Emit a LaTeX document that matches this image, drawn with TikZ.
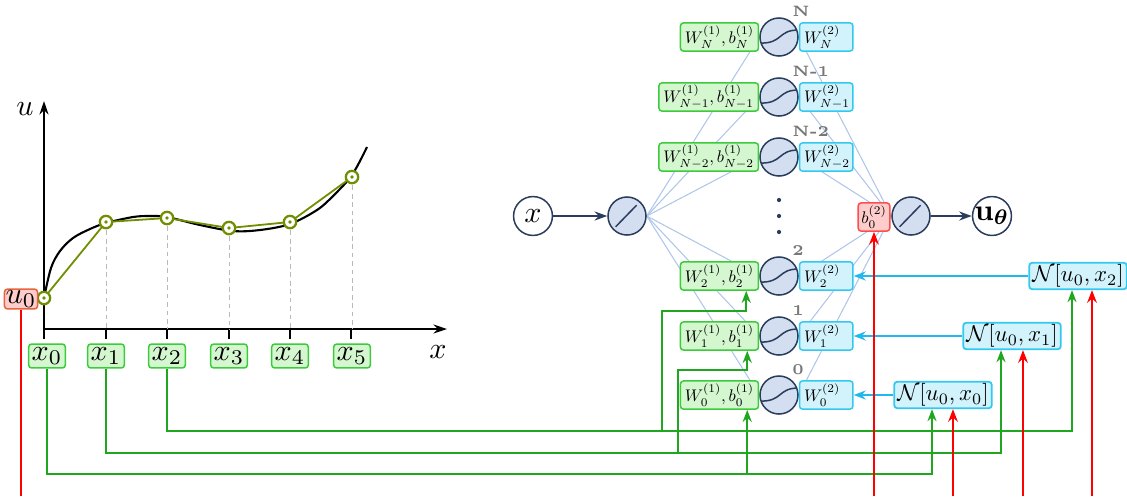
\documentclass[tikz,border=0pt]{standalone}
\usepackage{amsmath, amssymb}
\usepackage{graphicx}
\usetikzlibrary{calc, arrows.meta, positioning, backgrounds}

\definecolor{navy}{HTML}{2B3D5C}
\definecolor{neurfill}{HTML}{D3DEF0}
\definecolor{netcol}{HTML}{AFC6EA}
\definecolor{gfill}{HTML}{D4F7D0}
\definecolor{gdraw}{HTML}{3CCB3C}
\definecolor{gcol}{HTML}{1FA81F}
\definecolor{cfill}{HTML}{D3F3FC}
\definecolor{cdraw}{HTML}{33C8F0}
\definecolor{ccol}{HTML}{22B8EE}
\definecolor{rfill}{HTML}{FFCCCC}
\definecolor{rdraw}{HTML}{FF4D4D}
\definecolor{udraw}{HTML}{E8643C}
\definecolor{olivept}{HTML}{6F8F00}
\definecolor{lblgray}{HTML}{777777}

% small math inside the layer boxes
\newcommand{\wtxt}[1]{\scalebox{0.56}{$#1$}}
\newcommand{\ntxt}[1]{\scalebox{0.76}{$#1$}}

\tikzset{
    neuron/.style={circle, draw=navy, fill=neurfill, line width=0.5pt, minimum size=0.445cm, inner sep=0pt},
    sigm/.style={neuron, path picture={\draw[navy, line width=0.5pt]
        ($(path picture bounding box.center)+(-6.4pt,-2.0pt)$) .. controls
        ($(path picture bounding box.center)+(1.2pt,-2.3pt)$) and
        ($(path picture bounding box.center)+(-0.4pt,2.4pt)$) ..
        ($(path picture bounding box.center)+(6.4pt,2.3pt)$);}},
    lin/.style={neuron, path picture={\draw[navy, line width=0.5pt]
        ($(path picture bounding box.center)+(-3.8pt,-3.6pt)$) --
        ($(path picture bounding box.center)+(3.2pt,3.6pt)$);}},
    io/.style={circle, draw=navy, fill=white, line width=0.5pt, minimum size=0.455cm, inner sep=0pt},
    wbox/.style={draw=gdraw, fill=gfill, rounded corners=1pt, line width=0.5pt,
        minimum height=0.33cm, inner xsep=1.5pt, inner ysep=0.5pt},
    vbox/.style={draw=cdraw, fill=cfill, rounded corners=1pt, line width=0.5pt,
        minimum height=0.33cm, inner xsep=1.5pt, inner ysep=0.5pt, text width=0.52cm, align=left},
    nbox/.style={draw=cdraw, fill=cfill, rounded corners=1pt, line width=0.6pt,
        inner xsep=1pt, inner ysep=0.6pt},
    xbox/.style={draw=gdraw, fill=gfill, rounded corners=1pt, line width=0.5pt, inner sep=1pt, minimum height=0.28cm},
    rbox/.style={draw=rdraw, fill=rfill, rounded corners=1pt, line width=0.5pt, inner sep=1pt},
    lbl/.style={text=lblgray, font=\tiny\bfseries, inner sep=1pt},
    ptmark/.style={circle, draw=olivept, fill=white, line width=0.75pt, minimum size=0.145cm, inner sep=0pt,
        path picture={\fill[olivept] (path picture bounding box.center) circle (0.65pt);}},
    net/.style={netcol, line width=0.35pt},
    gline/.style={gcol, line width=0.7pt, -{Stealth[length=4pt, width=3pt]}},
    rline/.style={red, line width=0.8pt, -{Stealth[length=4.2pt, width=3.2pt]}},
    cline/.style={ccol, line width=0.75pt, -{Stealth[length=4pt, width=3pt]}},
    nline/.style={navy, line width=0.75pt, -{Stealth[length=4.2pt, width=3pt]}},
    axis/.style={black, line width=0.7pt, -{Stealth[length=4.5pt, width=3pt]}}
}

\begin{document}
\begin{tikzpicture}[x=0.0117cm, y=-0.0117cm]
    \useasboundingbox (0,0) rectangle (1127,496);

    % --- BUS LEVELS ---
    \def\yA{431}
    \def\yB{453}
    \def\yC{474}
    \def\yBot{496}

    % --- PLOT (LEFT) ---
    \coordinate (O) at (44,329);
    \coordinate (P0) at (44,298);
    \coordinate (P1) at (106,222);
    \coordinate (P2) at (167,218);
    \coordinate (P3) at (229,228);
    \coordinate (P4) at (290,222);
    \coordinate (P5) at (352,177);

    \draw[axis] (O) -- (447,329);
    \draw[axis] (O) -- (44,101);
    \node (xlab) at (438,352) {$x$};
    \node (ulab) at (25,109) {$u$};
    \foreach \t in {44,106,167,229,290,351}
        \draw[line width=0.7pt] (\t,329) -- (\t,339);

    % dashed guides
    \foreach \p in {P1,P2,P3,P4,P5}
        \draw[gray!55, dash pattern=on 1.6pt off 1.2pt, line width=0.3pt] (\p) -- (\p |- O);

    % exact solution
    \draw[black, line width=0.7pt] plot[smooth, tension=0.55] coordinates {
        (44,298) (51,268) (60,251) (73,238) (90,229) (106,223) (133,217) (150,216)
        (167,217) (200,225) (233,231) (260,230) (290,224) (317,210) (333,196) (352,175) (367,147)};

    % discrete approximation
    \draw[olivept, line width=0.6pt] (P0) -- (P1) -- (P2) -- (P3) -- (P4) -- (P5);
    \foreach \p in {P0,P1,P2,P3,P4,P5}
        \node[ptmark] (m\p) at (\p) {};

    \node[rbox, draw=udraw, inner sep=0.4pt] (u0) at (21,299) {$u_0$};
    \node[xbox] (x0) at (47,356) {$x_0$};
    \node[xbox] (x1) at (106,356) {$x_1$};
    \node[xbox] (x2) at (167,356) {$x_2$};
    \node[xbox] (x3) at (229,356) {$x_3$};
    \node[xbox] (x4) at (290,356) {$x_4$};
    \node[xbox] (x5) at (352,356) {$x_5$};

    % --- NETWORK (RIGHT) ---
    \node[io] (x) at (533,216) {$x$};
    \node[lin] (in) at (627,216) {};
    \node[lin] (out) at (911,216) {};
    \node[io] (ut) at (992,216) {$\mathbf{u}_{\boldsymbol{\theta}}$};
    \node[rbox, minimum width=0.37cm, minimum height=0.33cm, inner sep=0.5pt] (b0) at (874,217) {\wtxt{b_0^{(2)}}};

    % hidden layer
    \node[sigm, label={[lbl]60:N}] (hN) at (779,37) {};
    \node[wbox, left=0pt of hN] (wN) {\wtxt{W_N^{(1)}, b_N^{(1)}}};
    \node[vbox, right=0pt of hN] (vN) {\wtxt{W_N^{(2)}}};

    \node[sigm, label={[lbl]60:N-1}] (hNa) at (779,97) {};
    \node[wbox, left=0pt of hNa] (wNa) {\wtxt{W_{N-1}^{(1)}, b_{N-1}^{(1)}}};
    \node[vbox, right=0pt of hNa] (vNa) {\wtxt{W_{N-1}^{(2)}}};

    \node[sigm, label={[lbl]60:N-2}] (hNb) at (779,157) {};
    \node[wbox, left=0pt of hNb] (wNb) {\wtxt{W_{N-2}^{(1)}, b_{N-2}^{(1)}}};
    \node[vbox, right=0pt of hNb] (vNb) {\wtxt{W_{N-2}^{(2)}}};

    \node[sigm, label={[lbl]60:2}] (h2) at (779,276) {};
    \node[wbox, left=0pt of h2] (w2) {\wtxt{W_2^{(1)}, b_2^{(1)}}};
    \node[vbox, right=0pt of h2] (v2) {\wtxt{W_2^{(2)}}};

    \node[sigm, label={[lbl]60:1}] (h1) at (779,336) {};
    \node[wbox, left=0pt of h1] (w1) {\wtxt{W_1^{(1)}, b_1^{(1)}}};
    \node[vbox, right=0pt of h1] (v1) {\wtxt{W_1^{(2)}}};

    \node[sigm, label={[lbl]60:0}] (h0) at (779,395) {};
    \node[wbox, left=0pt of h0] (w0) {\wtxt{W_0^{(1)}, b_0^{(1)}}};
    \node[vbox, right=0pt of h0] (v0) {\wtxt{W_0^{(2)}}};

    % dots
    \fill[navy] (779,200) circle (0.7pt) (779,216) circle (0.7pt) (779,232) circle (0.7pt);

    % connections (behind)
    \begin{scope}[on background layer]
        \foreach \h in {hN,hNa,hNb,h2,h1,h0} {
            \draw[net] (in.east) -- (\h.west);
            \draw[net] (\h.east) -- (out.west);
        }
    \end{scope}

    \draw[nline] (x) -- (in);
    \draw[nline] (out) -- (ut);

    % residual boxes
    \node[nbox] (n0) at (943,395) {\ntxt{\mathcal{N}[u_0, x_0]}};
    \node[nbox] (n1) at (1012,336) {\ntxt{\mathcal{N}[u_0, x_1]}};
    \node[nbox] (n2) at (1078,276) {\ntxt{\mathcal{N}[u_0, x_2]}};

    \coordinate (n0g) at ($(n0.south)+(-11,0)$);
    \coordinate (n1g) at ($(n1.south)+(-11,0)$);
    \coordinate (n2g) at ($(n2.south)+(-6,0)$);
    \coordinate (n0r) at ($(n0.south)+(10,0)$);
    \coordinate (n1r) at ($(n1.south)+(11,0)$);
    \coordinate (n2r) at ($(n2.south)+(14,0)$);
    \coordinate (w0g) at ($(w0.south east)+(-12,0)$);
    \coordinate (w1g) at ($(w1.south east)+(-12,0)$);
    \coordinate (w2g) at ($(w2.south east)+(-13,0)$);

    % cyan: residual -> output weights
    \draw[cline] (n0.west) -- (v0.east);
    \draw[cline] (n1.west) -- (v1.east);
    \draw[cline] (n2.west) -- (v2.east);

    % green: collocation points
    \draw[gline] (x0.south) |- (n0g |- 0,\yC) -- (n0g);
    \draw[gline] (w0g |- 0,\yC) -- (w0g);
    \draw[gline] (x1.south) |- (n1g |- 0,\yB) -- (n1g);
    \draw[gline] (678,\yB) |- (w1g |- 0,370) -- (w1g);
    \draw[gline] (x2.south) |- (n2g |- 0,\yA) -- (n2g);
    \draw[gline] (662,\yA) |- (w2g |- 0,311) -- (w2g);

    % red: initial value
    \draw[red, line width=0.8pt] (u0.south) -- (u0.south |- 0,\yBot);
    \draw[rline] (b0.south |- 0,\yBot) -- (b0.south);
    \draw[rline] (n0r |- 0,\yBot) -- (n0r);
    \draw[rline] (n1r |- 0,\yBot) -- (n1r);
    \draw[rline] (n2r |- 0,\yBot) -- (n2r);
\end{tikzpicture}
\end{document}
